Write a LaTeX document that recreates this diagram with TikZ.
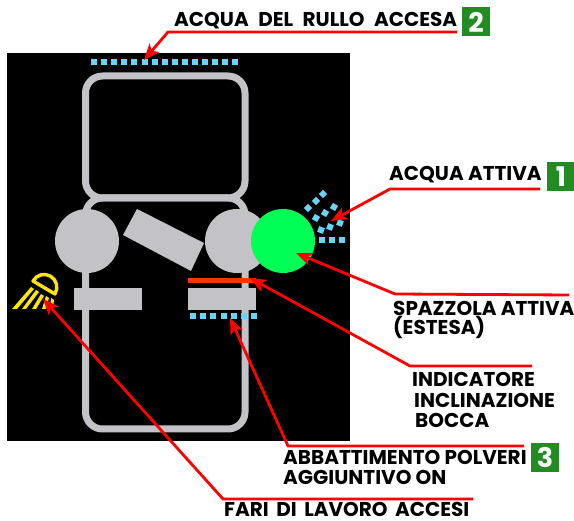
\documentclass[tikz,border=0pt]{standalone}
\usepackage{fontspec}
\setmainfont{Poppins}
\usetikzlibrary{arrows,arrows.meta}
\definecolor{Body}{HTML}{C3C3C7}
\definecolor{Water}{HTML}{66D6F8}
\definecolor{Brush}{HTML}{00FF55}
\definecolor{Lamp}{HTML}{FFE600}
\definecolor{Tilt}{HTML}{FF3300}
\definecolor{Badge}{HTML}{228B22}
\newcommand{\wordgap}{\spaceskip 9.5pt\relax}
\begin{document}
\begin{tikzpicture}[x=1pt,y=-1pt]
	\tikzstyle{Frame}	= [draw=Body, line width=7pt, rounded corners=17pt]
	\tikzstyle{Part}	= [fill=Body]
	\tikzstyle{Drop}	= [fill=Water, draw=none, minimum size=6pt, inner sep=0pt, rectangle]
	\tikzstyle{Lead}	= [draw=red, line width=2.8pt, -{Stealth[length=16pt,width=13pt,inset=4pt]}]
	\tikzstyle{Label}	= [anchor=base west, inner sep=0pt, font=\fontsize{20}{20}\selectfont\bfseries, text=black]
	\tikzstyle{WideLabel}	= [Label, font=\fontsize{20}{20}\selectfont\bfseries\wordgap]
	\tikzstyle{Number}	= [fill=Badge, text=white, inner sep=0pt, minimum width=28pt, minimum height=29pt, font=\fontsize{27}{27}\selectfont\bfseries]

	\useasboundingbox (0,0) rectangle (574,521);
	\fill [black] (7,53) rectangle (350,441);

	% machine body
	\draw [Frame] (85.5,76) rectangle (245,198);
	\draw [Frame] (85.5,198) rectangle (245,429);
	\fill [Part] (87,241) circle (32);
	\fill [Part] (237,241) circle (32);
	\fill [Part] (137,209) -- (204,243) -- (191,271) -- (123,235) -- cycle;
	\fill [Part] (74,288) rectangle (142,310);
	\fill [Part] (188,288) rectangle (256,310);
	\fill [Tilt] (188,278) rectangle (256,283);
	\fill [Brush] (283,241) circle (32);

	% lamp
	\draw [Lamp, line width=3.4pt, line join=round] (33,281) -- (55,294) .. controls (58.6,287.7) and (56.7,279.8) .. (50.5,276.2) .. controls (44.3,272.6) and (36.6,274.7) .. cycle;
	\foreach \a/\b/\c/\d/\e in {31/34/12/17/287, 36/39/22/26/290, 41/44/32/36/294, 46/49/42/46/296, 51/54/50/53/298}
		\fill [Lamp] (\a,\e) -- (\b,\e+2) -- (\d,309) -- (\c,309) -- cycle;

	% water
	\foreach \n in {0,...,14}
		\node (rollwater\n) at (94+10.1*\n, 62) [Drop] {};
	\foreach \n in {0,...,6}
		\node (dustwater\n) at (193+10.2*\n, 316) [Drop] {};
	\foreach \x/\y/\r in {322/240/0, 332/240/0, 342/240/0, 321/230/-20, 330/227/-20, 340/223/-20, 316/218/-30, 325/213/-30, 334/207/-30, 308/208/-45, 316/201/-45, 323/194/-45}
		\node (water\x) at (\x, \y) [Drop, rotate=\r] {};

	% badges
	\node (one) at (561,176.5) [Number] {1};
	\node (two) at (476,22) [Number] {2};
	\node (three) at (545,457.5) [Number] {3};

	% labels
	\node (acqua) at (389,181) [Label] {ACQUA ATTIVA};
	\node (rullo) at (174,27) [WideLabel] {ACQUA DEL RULLO ACCESA};
	\node (spazzola) at (393,316) [Label] {SPAZZOLA ATTIVA};
	\node (estesa) at (393,335) [Label] {(ESTESA)};
	\node (indicatore) at (412,387) [Label] {INDICATORE};
	\node (inclinazione) at (414,408) [Label] {INCLINAZIONE};
	\node (bocca) at (415,428) [Label] {BOCCA};
	\node (abbattimento) at (283,465) [Label] {ABBATTIMENTO POLVERI};
	\node (aggiuntivo) at (283,485) [Label] {AGGIUNTIVO ON};
	\node (fari) at (224,517) [Label] {\spaceskip 7.5pt\relax FARI DI LAVORO ACCESI};

	% leaders
	\coordinate (acquaend) at (540,189);
	\coordinate (acquatip) at (331,221);
	\coordinate (rulloend) at (457,32);
	\coordinate (rullotip) at (144,60);
	\coordinate (spazzolaend) at (569,295);
	\coordinate (spazzolatip) at (296,253);
	\coordinate (indicatoreend) at (532,366);
	\coordinate (indicatoretip) at (250,278);
	\coordinate (abbattimentoend) at (524,446);
	\coordinate (abbattimentotip) at (230,318);
	\coordinate (fariend) at (473,499);
	\coordinate (faritip) at (43,299);
	\foreach \a/\x/\y in {acqua/390/189, rullo/168/32, spazzola/395/294, indicatore/410/366, abbattimento/288/446, fari/223/499}
		\draw [Lead] (\a end) -- (\x, \y) -- (\a tip);
\end{tikzpicture}
\end{document}
